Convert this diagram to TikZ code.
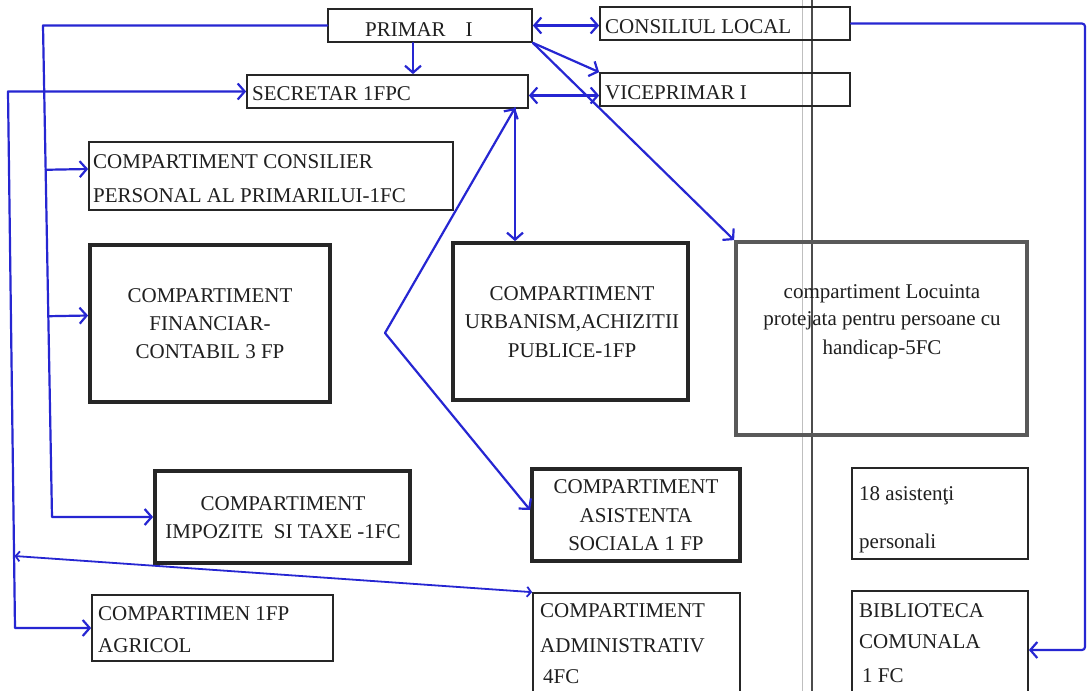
\documentclass[tikz,border=0pt]{standalone}
\usepackage{fontspec}
\setmainfont{Liberation Serif}
\usetikzlibrary{arrows.meta,calc}
\definecolor{connblue}{RGB}{38,38,210}
\begin{document}
\begin{tikzpicture}[x=1pt,y=-1pt,
  box/.style={draw=black!85, line width=1.7pt, inner sep=0pt},
  boxthick/.style={box, line width=3.8pt},
  txt/.style={inner sep=0pt, font=\fontsize{21}{25}\selectfont, text=black!88},
  conn/.style={draw=connblue, line width=2.2pt, line cap=round, line join=round},
  tipend/.style={-{Straight Barb[length=7pt,width=16pt]}},
  tipboth/.style={{Straight Barb[length=7pt,width=16pt]}-{Straight Barb[length=7pt,width=16pt]}},
  tipsmall/.style={{Straight Barb[length=4pt,width=10pt]}-{Straight Barb[length=4pt,width=10pt]}}
]
\useasboundingbox (0,0) rectangle (1088,691);
\clip (0,0) rectangle (1088,691);
\fill[white] (0,0) rectangle (1088,691);

% scan fold lines
\draw[black!25, line width=1pt] (802,0) -- (802,691);
\draw[black!70, line width=1.3pt] (812,0) -- (812,691);

% boxes
\node[box, minimum width=204pt, minimum height=33pt] (primar) at (430,25.5) {};
\node[box, minimum width=250pt, minimum height=33pt] (consiliu) at (725,23.5) {};
\node[box, minimum width=281pt, minimum height=33pt] (secretar) at (387.5,91.5) {};
\node[box, minimum width=250pt, minimum height=33pt] (vice) at (725,89.5) {};
\node[box, minimum width=364pt, minimum height=68pt] (consilier) at (271,176) {};
\node[boxthick, minimum width=240pt, minimum height=157pt] (financiar) at (210,323.5) {};
\node[boxthick, minimum width=235pt, minimum height=157pt] (urbanism) at (570.5,321.5) {};
\node[boxthick, draw=black!65, minimum width=291pt, minimum height=193pt] (locuinta) at (881.5,338.5) {};
\node[boxthick, minimum width=255pt, minimum height=92pt] (impozite) at (282.5,517) {};
\node[boxthick, minimum width=208pt, minimum height=92pt] (asistenta) at (636,515) {};
\node[box, minimum width=176pt, minimum height=91pt] (asist18) at (940,513.5) {};
\node[box, minimum width=241pt, minimum height=66pt] (agricol) at (212.5,628) {};
\node[box, minimum width=207pt, minimum height=104pt] (admin) at (636.5,645) {};
\node[box, minimum width=176pt, minimum height=104pt] (biblio) at (940,643) {};

% texts
\node[txt, anchor=base west] (tprimar) at (365,36) {PRIMAR\hspace{20pt}I};
\node[txt, anchor=base west] (tconsiliu) at (605,33) {CONSILIUL LOCAL};
\node[txt, anchor=base west] (tsecretar) at (252,100) {SECRETAR 1FPC};
\node[txt, anchor=base west] (tvice) at (605,99) {VICEPRIMAR I};
\node[txt, anchor=base west] (tcons1) at (93,168) {COMPARTIMENT CONSILIER};
\node[txt, anchor=base west] (tcons2) at (93,202) {PERSONAL AL PRIMARILUI-1FC};
\node[txt, anchor=base] (tfin1) at (210,302) {COMPARTIMENT};
\node[txt, anchor=base] (tfin2) at (210,330) {FINANCIAR-};
\node[txt, anchor=base] (tfin3) at (210,358) {CONTABIL 3 FP};
\node[txt, anchor=base] (turb1) at (572,300) {COMPARTIMENT};
\node[txt, anchor=base] (turb2) at (572,328) {URBANISM,ACHIZITII};
\node[txt, anchor=base] (turb3) at (572,357) {PUBLICE-1FP};
\node[txt, anchor=base] (tloc1) at (882,298) {compartiment Locuinta};
\node[txt, anchor=base] (tloc2) at (882,325) {protejata pentru persoane cu};
\node[txt, anchor=base] (tloc3) at (882,354) {handicap-5FC};
\node[txt, anchor=base] (timp1) at (283,510) {COMPARTIMENT};
\node[txt, anchor=base] (timp2) at (283,538) {IMPOZITE\ \ SI TAXE -1FC};
\node[txt, anchor=base] (tas1) at (636,493) {COMPARTIMENT};
\node[txt, anchor=base] (tas2) at (636,522) {ASISTENTA};
\node[txt, anchor=base] (tas3) at (636,550) {SOCIALA 1 FP};
\node[txt, anchor=base west] (t18a) at (859,500) {18 asistenţi};
\node[txt, anchor=base west] (t18b) at (859,548) {personali};
\node[txt, anchor=base west] (tagr1) at (98,620) {COMPARTIMEN 1FP};
\node[txt, anchor=base west] (tagr2) at (98,652) {AGRICOL};
\node[txt, anchor=base west] (tadm1) at (540,617) {COMPARTIMENT};
\node[txt, anchor=base west] (tadm2) at (540,652) {ADMINISTRATIV};
\node[txt, anchor=base west] (tadm3) at (543,683) {4FC};
\node[txt, anchor=base west] (tbib1) at (859,617) {BIBLIOTECA};
\node[txt, anchor=base west] (tbib2) at (859,648) {COMUNALA};
\node[txt, anchor=base west] (tbib3) at (862,682) {1 FC};

% connector coordinates
\coordinate (a1) at (43,25.5);
\coordinate (a2) at (52,517);
\coordinate (b1) at (8,91.5);
\coordinate (b2) at (15,628);
\coordinate (c1) at (14.5,556);
\coordinate (s1) at (515,108);
\coordinate (j1) at (385,333);
\coordinate (k1) at (1085,23.5);
\coordinate (kb) at ([yshift=-7pt]biblio.east);

% primar trunk on the left
\draw[conn, tipend] (primar.west) -- (a1) -- (a2) -- (impozite.west);
\draw[conn, tipend] ($(a1)!([yshift=7pt]consilier.west)!(a2)$) -- ([yshift=7pt]consilier.west);
\draw[conn, tipend] ($(a1)!([yshift=8pt]financiar.west)!(a2)$) -- ([yshift=8pt]financiar.west);

% secretar trunk on the far left
\draw[conn, tipboth] (secretar.west) -- (b1) -- (b2) -- (agricol.west);
\draw[conn, line width=1.8pt, tipsmall] (c1) -- (admin.north west);

% top connections
\draw[conn, tipend] ([xshift=-17pt]primar.south) -- ([xshift=-17pt]primar.south |- secretar.north);
\draw[conn, tipboth] (primar.east) -- (primar.east -| consiliu.west);
\draw[conn, tipend] (primar.south east) -- (vice.north west);
\draw[conn, tipboth] ([yshift=-6pt]vice.west) -- ([yshift=-6pt]vice.west -| secretar.east);
\draw[conn, tipend] (primar.south east) -- (locuinta.north west);

% secretar downwards
\draw[conn, tipend] (s1) -- (s1 |- urbanism.north);
\draw[conn, tipboth] (s1) -- (j1) -- ([yshift=5pt]asistenta.west);

% consiliul local to biblioteca
\draw[conn, tipend, rounded corners=3pt] (consiliu.east) -- (k1) -- (k1 |- kb) -- (kb);
\end{tikzpicture}
\end{document}
